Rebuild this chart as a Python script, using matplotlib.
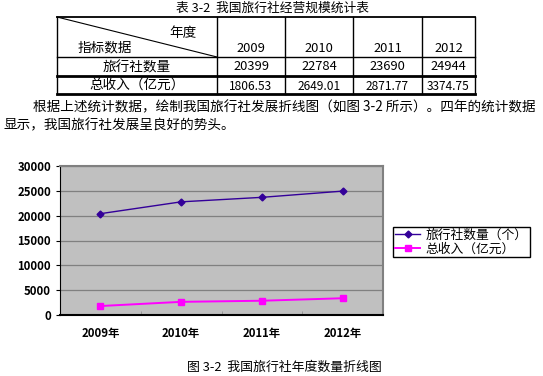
import matplotlib
matplotlib.use("Agg")
import matplotlib.pyplot as plt

plt.rcParams['font.family'] = ['Noto Sans CJK SC', 'DejaVu Sans']

# data for the table and the chart
years = ["2009", "2010", "2011", "2012"]
agencies = [20399, 22784, 23690, 24944]
revenue = [1806.53, 2649.01, 2871.77, 3374.75]
row_names = ["旅行社数量", "总收入（亿元）"]
series_names = ["旅行社数量（个）", "总收入（亿元）"]

table_title = "表 3-2  我国旅行社经营规模统计表"
para_line1 = "根据上述统计数据，绘制我国旅行社发展折线图（如图 3-2 所示）。四年的统计数据"
para_line2 = "显示，我国旅行社发展呈良好的势头。"
fig_caption = "图 3-2  我国旅行社年度数量折线图"

W, H = 543, 376
fig = plt.figure(figsize=(W / 100, H / 100), dpi=100)

# page layer in pixel coords (y goes down)
page = fig.add_axes([0, 0, 1, 1])
page.set_xlim(0, W)
page.set_ylim(H, 0)
page.axis("off")

page.text(272, 8, table_title, ha="center", va="center", fontsize=9.2)

# table grid
cols = [57, 217, 285, 353, 422, 475]
rows = [17, 57, 76, 94]
page.plot([cols[0], cols[-1]], [rows[0], rows[0]], color="black", lw=1.3)
page.plot([cols[0], cols[-1]], [rows[1], rows[1]], color="black", lw=1.0)
page.plot([cols[0], cols[-1]], [rows[2], rows[2]], color="black", lw=2.0)
page.plot([cols[0], cols[-1]], [rows[3], rows[3]], color="black", lw=2.0)
for c in cols:
    page.plot([c, c], [rows[0], rows[-1]], color="black", lw=1.0)
# diagonal header cell
page.plot([cols[0], cols[1]], [rows[0], rows[1]], color="black", lw=0.8)
page.text(183, 33, "年度", ha="center", va="center", fontsize=9.8)
page.text(105, 47, "指标数据", ha="center", va="center", fontsize=9.8)

centers = [(cols[i] + cols[i + 1]) / 2 for i in range(len(cols) - 1)]
for i, yr in enumerate(years):
    page.text(centers[i + 1], 49, yr, ha="center", va="center", fontsize=9.3)
    page.text(centers[i + 1], 67, str(agencies[i]), ha="center", va="center", fontsize=9.3)
    page.text(centers[i + 1], 86, f"{revenue[i]:.2f}", ha="center", va="center", fontsize=8.6)
page.text(centers[0], 67, row_names[0], ha="center", va="center", fontsize=9.8)
page.text(centers[0], 86, row_names[1], ha="center", va="center", fontsize=9.8)

# paragraph
page.text(33, 107, para_line1, ha="left", va="center", fontsize=9.8)
page.text(3, 125, para_line2, ha="left", va="center", fontsize=9.8)

page.text(284, 367, fig_caption, ha="center", va="center", fontsize=9.3)

# the chart
ax = fig.add_axes([60 / W, 1 - 315 / H, (383 - 60) / W, (315 - 166) / H])
ax.set_facecolor("#C0C0C0")
x = list(range(len(years)))
ax.plot(x, agencies, color="#330099", lw=1.0, marker="D", ms=3.5, label=series_names[0])
ax.plot(x, revenue, color="#FF00FF", lw=1.4, marker="s", ms=5, label=series_names[1])
ax.set_xlim(-0.5, len(years) - 0.5)
ax.set_ylim(0, 30000)
ax.set_yticks(range(0, 30001, 5000))
ax.yaxis.grid(True, color="#808080", lw=0.9)
ax.set_axisbelow(True)
ax.set_xticks(x)
ax.set_xticklabels([f"{y}年" for y in years])
ax.set_xticks([i + 0.5 for i in x[:-1]], minor=True)
ax.tick_params(axis="x", which="major", length=0, pad=9, labelsize=8.2)
ax.tick_params(axis="x", which="minor", direction="in", length=3, color="#909090")
ax.tick_params(axis="y", length=3, labelsize=8.2)
for lab in ax.get_xticklabels() + ax.get_yticklabels():
    lab.set_fontweight("bold")
ax.spines["left"].set_color("black")
ax.spines["bottom"].set_color("black")
ax.spines["bottom"].set_linewidth(1.5)
ax.spines["top"].set_color("#808080")
ax.spines["right"].set_color("#808080")
ax.spines["top"].set_linewidth(1.5)
ax.spines["right"].set_linewidth(1.5)

leg = fig.legend(loc="upper left", bbox_to_anchor=(393 / W, 1 - 227 / H),
                 fontsize=9.2, frameon=True, fancybox=False, framealpha=1,
                 edgecolor="black", borderpad=0.15, labelspacing=0.05,
                 handlelength=2.0, handletextpad=0.4, borderaxespad=0)
leg.get_frame().set_linewidth(1.0)

fig.savefig("out.png", dpi=100)
